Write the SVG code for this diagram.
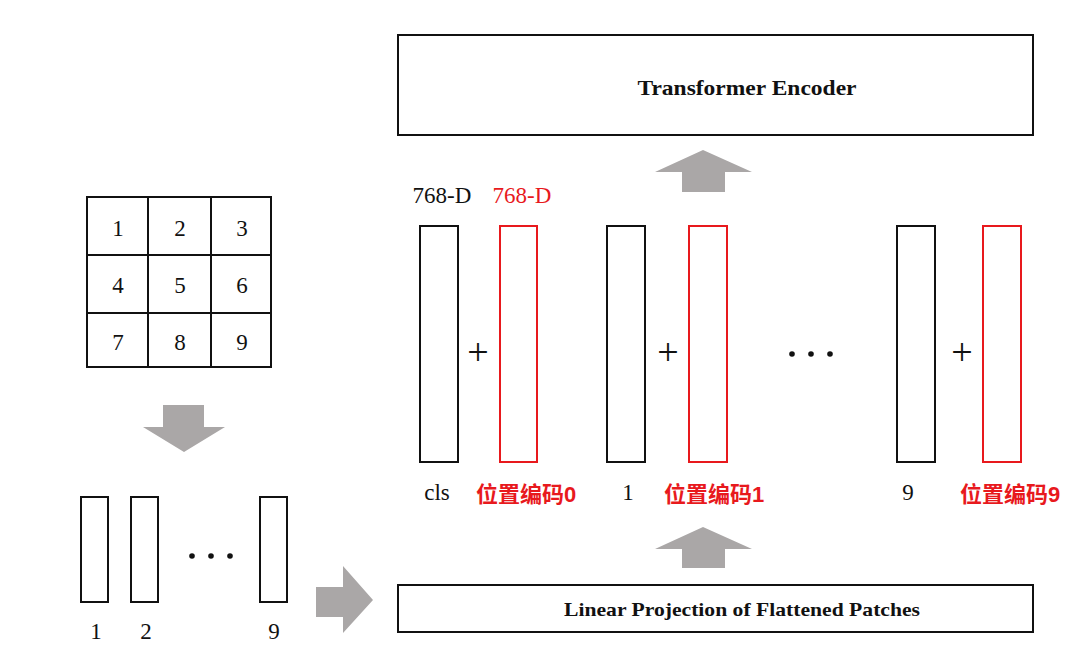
<svg xmlns="http://www.w3.org/2000/svg" width="1080" height="668" viewBox="0 0 1080 668">
<style>
.bg{fill:#ffffff}
.box{fill:#ffffff;stroke:#111111;stroke-width:2}
.rbox{fill:#ffffff;stroke:#e8191d;stroke-width:2}
.arr{fill:#aaa7a7}
.t{font-family:"Liberation Serif","Times New Roman",serif;fill:#111111;text-anchor:middle}
.num{font-size:23px}
.title{font-size:21px;font-weight:bold}
.red{fill:#e8191d}
.cn{font-family:"Liberation Sans","Noto Sans CJK SC",sans-serif;font-weight:bold;font-size:22px;fill:#e8191d;text-anchor:middle}
.plus{font-size:38px}
.dot{fill:#111111}
</style>
<rect class="bg" x="0" y="0" width="1080" height="668"/>

<g id="grid">
<rect class="box" x="87" y="197" width="184" height="170"/>
<line x1="148" y1="197" x2="148" y2="367" stroke="#111" stroke-width="2"/>
<line x1="211" y1="197" x2="211" y2="367" stroke="#111" stroke-width="2"/>
<line x1="87" y1="255" x2="271" y2="255" stroke="#111" stroke-width="2"/>
<line x1="87" y1="313" x2="271" y2="313" stroke="#111" stroke-width="2"/>
<text class="t num" x="118" y="236">1</text>
<text class="t num" x="180" y="236">2</text>
<text class="t num" x="242" y="236">3</text>
<text class="t num" x="118" y="293">4</text>
<text class="t num" x="180" y="293">5</text>
<text class="t num" x="242" y="293">6</text>
<text class="t num" x="118" y="350">7</text>
<text class="t num" x="180" y="350">8</text>
<text class="t num" x="242" y="350">9</text>
</g>

<g id="patches">
<rect class="box" x="81" y="497" width="27" height="105"/>
<rect class="box" x="131" y="497" width="27" height="105"/>
<rect class="box" x="260" y="497" width="27" height="105"/>
<circle class="dot" cx="192" cy="556" r="2.8"/>
<circle class="dot" cx="211" cy="556" r="2.8"/>
<circle class="dot" cx="230" cy="556" r="2.8"/>
<text class="t num" x="96" y="639">1</text>
<text class="t num" x="146" y="639">2</text>
<text class="t num" x="274" y="639">9</text>
</g>

<g id="transformer-encoder">
<rect class="box" x="398" y="35" width="635" height="100"/>
<text class="t title" x="747" y="95" textLength="219" lengthAdjust="spacingAndGlyphs">Transformer Encoder</text>
</g>

<g id="linear-projection">
<rect class="box" x="398" y="585" width="635" height="47"/>
<text class="t title" x="742" y="616" style="font-size:19px" textLength="356" lengthAdjust="spacingAndGlyphs">Linear Projection of Flattened Patches</text>
</g>

<g id="token-cls">
<text class="t num" x="442" y="203">768-D</text>
<rect class="box" x="420" y="226" width="38" height="236"/>
<text class="t num" x="437" y="500">cls</text>
</g>
<g id="pos-0">
<text class="t num red" x="522" y="203">768-D</text>
<rect class="rbox" x="500" y="226" width="37" height="236"/>
<text class="cn" x="526" y="502">位置编码0</text>
</g>
<g id="token-1">
<rect class="box" x="607" y="226" width="38" height="236"/>
<text class="t num" x="628" y="500">1</text>
</g>
<g id="pos-1">
<rect class="rbox" x="689" y="226" width="38" height="236"/>
<text class="cn" x="714" y="502">位置编码1</text>
</g>
<g id="token-9">
<rect class="box" x="897" y="226" width="38" height="236"/>
<text class="t num" x="908" y="500">9</text>
</g>
<g id="pos-9">
<rect class="rbox" x="983" y="226" width="38" height="236"/>
<text class="cn" x="1010" y="502">位置编码9</text>
</g>

<g id="operators">
<text class="t plus" x="478" y="365">+</text>
<text class="t plus" x="668" y="365">+</text>
<text class="t plus" x="962" y="365">+</text>
<circle class="dot" cx="792" cy="354" r="2.8"/>
<circle class="dot" cx="811" cy="354" r="2.8"/>
<circle class="dot" cx="830" cy="354" r="2.8"/>
</g>

<g id="connectors">
<polygon class="arr" points="163,405 204,405 204,427 225,427 184,452 143,427 163,427"/>
<polygon class="arr" points="316,587 343,587 343,566 373,600 343,633 343,617 316,617"/>
<polygon class="arr" points="682,568 725,568 725,549 752,549 703,527 655,549 682,549"/>
<polygon class="arr" points="682,192 725,192 725,172 752,172 703,150 655,172 682,172"/>
</g>
</svg>
